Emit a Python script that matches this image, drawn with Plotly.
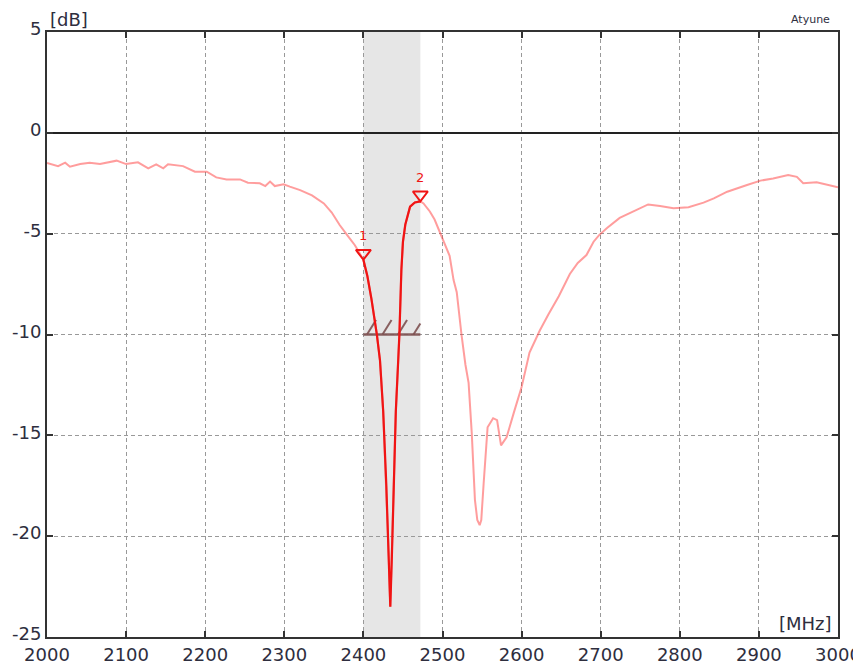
import plotly.graph_objects as go

# ---- data ----
freq = [2000, 2014, 2023, 2029, 2042, 2054, 2067, 2078, 2088, 2100, 2115, 2128, 2138, 2147, 2153,
        2172, 2187, 2202, 2214, 2227, 2244, 2254, 2269, 2276, 2282, 2288, 2299, 2307, 2320, 2335,
        2350, 2360, 2370, 2380, 2389, 2395, 2400, 2405, 2410, 2417, 2421, 2425, 2429, 2432, 2434,
        2436, 2438, 2441, 2444, 2445.5, 2448, 2450, 2453, 2459, 2465, 2472, 2476, 2484, 2490, 2497,
        2503, 2509, 2514, 2518, 2524, 2529, 2533, 2537, 2541, 2544, 2547, 2549, 2552, 2557, 2564,
        2569, 2574, 2581, 2590, 2600, 2610, 2623, 2634, 2647, 2661, 2671, 2682, 2691, 2698, 2708,
        2724, 2741, 2760, 2775, 2792, 2811, 2830, 2843, 2860, 2885, 2902, 2918, 2937, 2948, 2956,
        2973, 2994, 3000]
s11_db = [-1.5, -1.65, -1.48, -1.68, -1.55, -1.48, -1.55, -1.45, -1.38, -1.55, -1.46, -1.76, -1.56, -1.76, -1.56,
          -1.65, -1.93, -1.93, -2.21, -2.31, -2.31, -2.47, -2.5, -2.64, -2.42, -2.64, -2.55, -2.67, -2.84, -3.1,
          -3.5, -3.95, -4.57, -5.1, -5.56, -5.95, -6.3, -7.1, -8.2, -10.0, -11.3, -13.8, -17.5, -21.0, -23.5,
          -21.0, -17.5, -13.8, -11.3, -10.0, -6.8, -5.4, -4.55, -3.66, -3.45, -3.4, -3.5, -3.9, -4.3, -5.0,
          -5.5, -6.1, -7.3, -7.9, -10.0, -11.5, -12.4, -14.9, -18.2, -19.2, -19.45, -19.2, -17.4, -14.6, -14.15,
          -14.25, -15.5, -15.1, -13.9, -12.6, -10.9, -9.8, -9.0, -8.1, -7.0, -6.45, -6.06, -5.4, -5.07, -4.72,
          -4.22, -3.9, -3.55, -3.63, -3.74, -3.69, -3.46, -3.25, -2.92, -2.59, -2.37, -2.26, -2.09, -2.18, -2.5,
          -2.45, -2.64, -2.7]

band = [2400, 2472]          # highlighted band [MHz]
limit_db = -10               # return-loss limit line
marker_freqs = [2400, 2472]
marker_labels = ["1", "2"]
x_ticks = list(range(2000, 3001, 100))
y_ticks = [5, 0, -5, -10, -15, -20, -25]

# ---- derived ----
band_f = [f for f in freq if band[0] <= f <= band[1]]
band_v = [v for f, v in zip(freq, s11_db) if band[0] <= f <= band[1]]
marker_vals = [s11_db[freq.index(f)] for f in marker_freqs]

RED = "rgb(240,20,20)"
LIGHT = "rgba(255,60,60,0.5)"
LABEL = "#2e2e3e"
HATCH = "rgba(125,80,80,0.9)"
FONT = "DejaVu Sans"

fig = go.Figure()

# hatch strokes above the limit line (style geometry derived from the band)
step, run, rise = 19.6, 11.5, 0.72
hx, hy = [], []
x0 = band[0] + 4.5
while x0 < band[1]:
    x1 = min(x0 + run, band[1])
    hx += [x0, x1, None]
    hy += [limit_db, limit_db + rise * (x1 - x0) / run, None]
    x0 += step
fig.add_trace(go.Scatter(x=hx, y=hy, mode="lines", line=dict(color=HATCH, width=2),
                         hoverinfo="skip", showlegend=False))
fig.add_trace(go.Scatter(x=band, y=[limit_db, limit_db], mode="lines",
                         line=dict(color=HATCH, width=2.5),
                         hoverinfo="skip", showlegend=False))

# full light trace
fig.add_trace(go.Scatter(x=freq, y=s11_db, mode="lines",
                         line=dict(color=LIGHT, width=2), showlegend=False))
# bold in-band trace
fig.add_trace(go.Scatter(x=band_f, y=band_v, mode="lines",
                         line=dict(color=RED, width=2.2), showlegend=False))

# markers: open down-triangles with tip at data point
tri_off = 0.33  # dB, half triangle height
fig.add_trace(go.Scatter(x=marker_freqs, y=[v + tri_off for v in marker_vals], mode="markers",
                         marker=dict(symbol="triangle-down-open", size=13, color=RED,
                                     line=dict(width=2, color=RED)),
                         showlegend=False))
for f, v, lab in zip(marker_freqs, marker_vals, marker_labels):
    fig.add_annotation(x=f, y=v, text=lab, showarrow=False, yshift=24,
                       font=dict(family=FONT, size=13, color=RED))

fig.add_shape(type="rect", xref="x", yref="paper", x0=band[0], x1=band[1], y0=0, y1=1,
              fillcolor="#e6e6e6", line=dict(width=0), layer="below")

fig.add_annotation(xref="paper", yref="paper", x=0, y=1, xanchor="left", yanchor="bottom",
                   xshift=1, yshift=0, text="[dB]", showarrow=False,
                   font=dict(family=FONT, size=18, color=LABEL))
fig.add_annotation(xref="paper", yref="paper", x=1, y=0, xanchor="right", yanchor="bottom",
                   xshift=-4, yshift=1, text="[MHz]", showarrow=False,
                   font=dict(family=FONT, size=18, color=LABEL))
fig.add_annotation(xref="paper", yref="paper", x=1, y=1, xanchor="right", yanchor="bottom",
                   xshift=-6, yshift=4, text="Atyune", showarrow=False,
                   font=dict(family=FONT, size=11, color=LABEL))

# page body has an 8px margin: figure is 853x657 drawn at (8,8)
fig.update_layout(
    width=853, height=657,
    margin=dict(l=39, r=23, t=24, b=28, autoexpand=False),
    paper_bgcolor="white", plot_bgcolor="white",
    font=dict(family=FONT, size=18, color=LABEL),
    showlegend=False,
)
axis_common = dict(showgrid=True, gridcolor="#999", gridwidth=1, griddash="4px,3px",
                   showline=True, linecolor="#333", linewidth=2, mirror="ticks",
                   ticks="inside", ticklen=6, tickwidth=2, tickcolor="#333",
                   automargin=False, tickfont=dict(family=FONT, size=18, color=LABEL))
fig.update_xaxes(range=[2000, 3000], tickvals=x_ticks, ticktext=[str(t) for t in x_ticks],
                 zeroline=False, **axis_common)
fig.update_yaxes(range=[-25, 5], tickvals=y_ticks, ticktext=[str(t) for t in y_ticks],
                 zeroline=True, zerolinecolor="#222", zerolinewidth=2, ticklabelshift=-3,
                 **axis_common)

fig.write_html("out.html")
